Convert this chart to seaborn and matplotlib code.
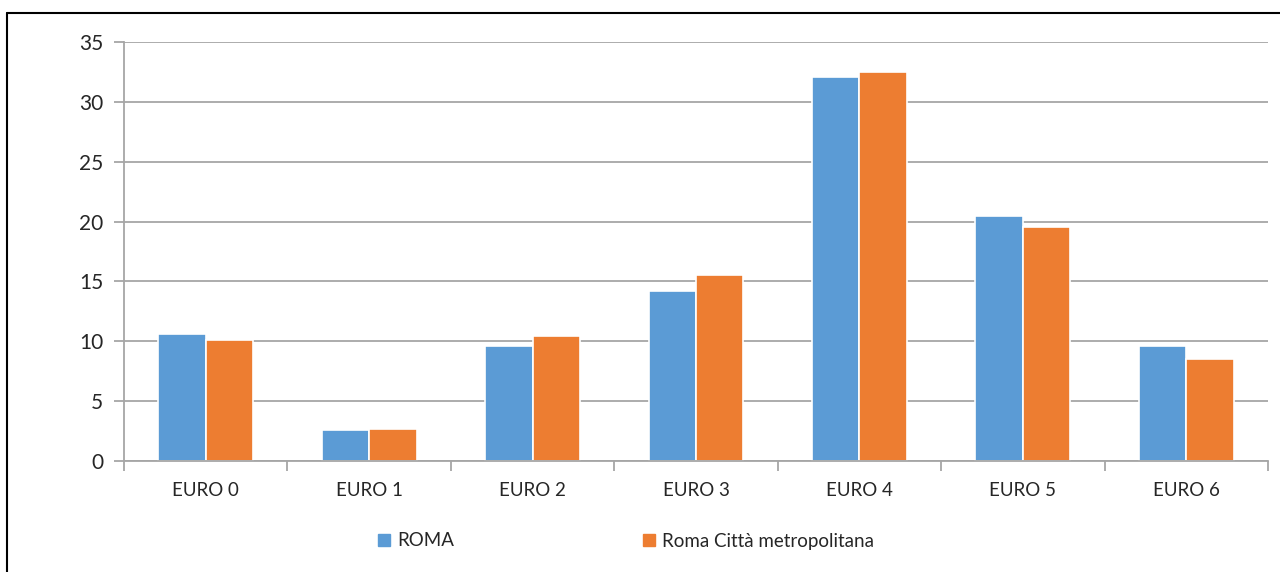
import numpy as np
import pandas as pd
import matplotlib
matplotlib.use("Agg")
import matplotlib.pyplot as plt
import seaborn as sns
from matplotlib.lines import Line2D

categories = ["EURO 0", "EURO 1", "EURO 2", "EURO 3", "EURO 4", "EURO 5", "EURO 6"]
roma = [10.65, 2.6, 9.6, 14.2, 32.1, 20.5, 9.6]
roma_citta = [10.1, 2.7, 10.45, 15.5, 32.5, 19.55, 8.5]
series = ["ROMA", "Roma Città metropolitana"]
colors = ["#5B9BD5", "#ED7D31"]

df = pd.DataFrame({
    "classe": categories * 2,
    "valore": roma + roma_citta,
    "serie": [series[0]] * len(categories) + [series[1]] * len(categories),
})

sns.set_theme(style="white")
plt.rcParams["font.family"] = ["Lato", "DejaVu Sans"]

fig = plt.figure(figsize=(12.8, 5.72), dpi=100)
ax = fig.add_axes([124 / 1280, 1 - 461 / 572, (1268 - 124) / 1280, (461 - 42) / 572])

sns.barplot(data=df, x="classe", y="valore", hue="serie", palette=colors,
            width=0.58, edgecolor="white", linewidth=1.2, saturation=1,
            ax=ax, legend=False)

ax.set_ylim(0, 35)
ax.set_xlim(-0.5, len(categories) - 0.5)
ax.set_yticks(range(0, 36, 5))
ax.yaxis.grid(True, color="#A6A6A6", linewidth=1.3)
ax.set_axisbelow(True)
ax.set_xlabel("")
ax.set_ylabel("")
for s in ["top", "right"]:
    ax.spines[s].set_visible(False)
for s in ["left", "bottom"]:
    ax.spines[s].set_color("#A6A6A6")
    ax.spines[s].set_linewidth(1.3)

ax.tick_params(axis="y", length=7, color="#A6A6A6", width=1.3, labelsize=15, pad=8, left=True)
ax.set_xticks(range(len(categories)))
ax.set_xticklabels(categories)
ax.tick_params(axis="x", length=0, labelsize=13.5, pad=15)
# category separators on the x axis
ax.set_xticks(np.arange(-0.5, len(categories), 1), minor=True)
ax.tick_params(axis="x", which="minor", length=7, color="#A6A6A6", width=1.3, bottom=True)

handles = [Line2D([], [], marker="s", linestyle="", markersize=8, color=c) for c in colors]
fig.legend(handles, series, loc="center", bbox_to_anchor=(0.487, 1 - 541 / 572),
           ncol=2, frameon=False, fontsize=13.5, columnspacing=9.8, handletextpad=0.1,
           handlelength=1.2)

# outer frame (top and left edges visible)
fig.add_artist(Line2D([7 / 1280, 7 / 1280], [0, 1 - 13 / 572], color="black", linewidth=1.5,
                      transform=fig.transFigure))
fig.add_artist(Line2D([7 / 1280, 1], [1 - 13 / 572, 1 - 13 / 572], color="black", linewidth=1.5,
                      transform=fig.transFigure))

fig.savefig("out.png", dpi=100, facecolor="white")
